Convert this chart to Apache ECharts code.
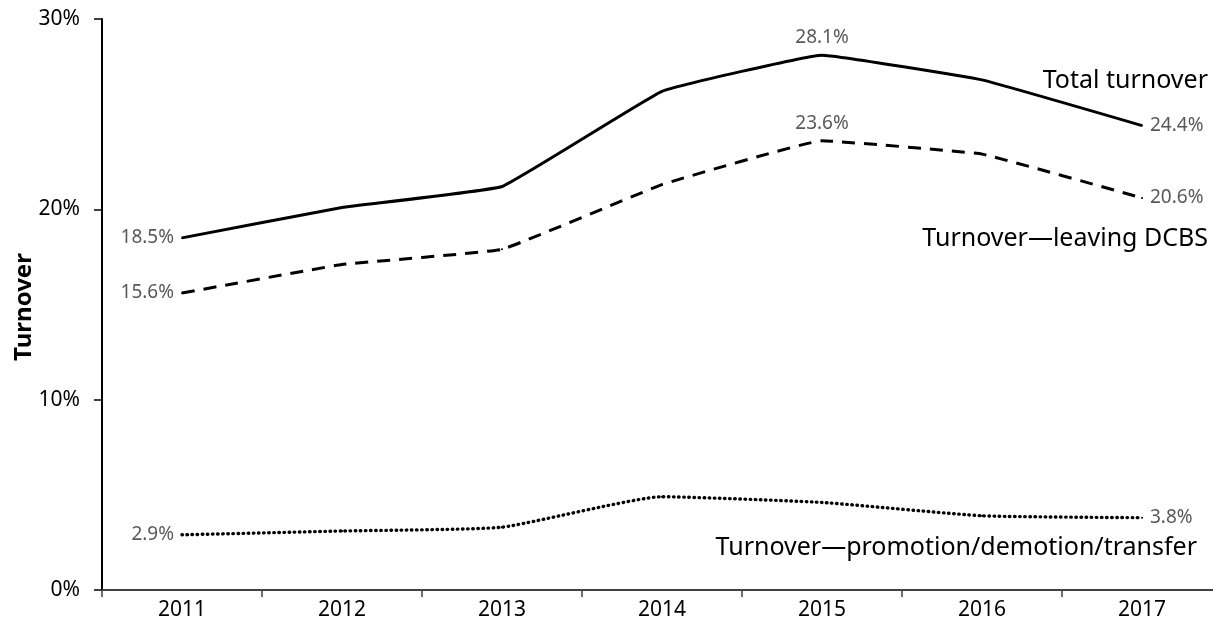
<!DOCTYPE html>
<html>
<head>
<meta charset="utf-8">
<script src="https://cdn.jsdelivr.net/npm/echarts@6/dist/echarts.min.js"></script>
<style>html,body{margin:0;padding:0;background:#fff}#c{width:1213px;height:634px}</style>
</head>
<body>
<div id="c"></div>
<script>
const years = ['2011','2012','2013','2014','2015','2016','2017'];
const totalTurnover = [18.5, 20.1, 21.2, 26.2, 28.1, 26.8, 24.4];
const leavingDCBS = [15.6, 17.1, 17.9, 21.3, 23.6, 22.9, 20.6];
const promotionTransfer = [2.9, 3.1, 3.3, 4.9, 4.6, 3.9, 3.8];
const yTicks = [0, 10, 20, 30];
const yAxisTitle = 'Turnover';
const seriesNames = ['Total turnover', 'Turnover\u2014leaving DCBS', 'Turnover\u2014promotion/demotion/transfer'];

const FONT = 'Noto Sans';
const chart = echarts.init(document.getElementById('c'), null, {renderer: 'canvas'});

function labelled(arr, cfg) {
  return arr.map((v, i) => {
    const d = {value: v};
    if (cfg[i]) {
      d.label = {show: true, position: cfg[i]};
    }
    return d;
  });
}

const common = {
  type: 'line', symbol: 'circle', symbolSize: 2, showSymbol: true,
  itemStyle: {color: '#000'},
  label: {show: false, distance: 7, color: '#595959', fontSize: 19, fontFamily: FONT,
    formatter: p => p.value.toFixed(1) + '%'},
  labelLayout: {hideOverlap: false},
  z: 3
};

const option = {
  animation: false,
  grid: {left: 102, right: -9, top: 19, bottom: 44, containLabel: false, outerBoundsMode: 'none'},
  xAxis: {
    type: 'category',
    data: years,
    boundaryGap: true,
    axisLine: {lineStyle: {color: '#404040', width: 2}},
    axisTick: {show: true, length: 7, lineStyle: {color: '#404040', width: 1.5}},
    axisLabel: {color: '#000', fontSize: 21, fontFamily: FONT, margin: 10}
  },
  yAxis: {
    type: 'value',
    min: yTicks[0], max: yTicks[yTicks.length - 1], interval: 10,
    axisLine: {show: true, lineStyle: {color: '#000', width: 2}},
    axisTick: {show: true, length: 8, lineStyle: {color: '#000', width: 1.5}},
    splitLine: {show: false},
    axisLabel: {color: '#000', fontSize: 21, fontFamily: FONT, margin: 22,
      formatter: v => v + '%'}
  },
  series: [
    Object.assign({}, common, {
      name: seriesNames[0], smooth: 0.08,
      lineStyle: {color: '#000', width: 3},
      data: labelled(totalTurnover, {0: 'left', 4: 'top', 6: 'right'})
    }),
    Object.assign({}, common, {
      name: seriesNames[1], smooth: 0.08,
      lineStyle: {color: '#000', width: 3, type: [13, 9]},
      data: labelled(leavingDCBS, {0: 'left', 4: 'top', 6: 'right'})
    }),
    Object.assign({}, common, {
      name: seriesNames[2], smooth: 0.15,
      lineStyle: {color: '#000', width: 3.4, type: [0.5, 4.6], cap: 'round'},
      data: labelled(promotionTransfer, {0: 'left', 6: 'right'})
    })
  ],
  graphic: [
    {type: 'text', x: 24, y: 307, rotation: Math.PI / 2,
      style: {text: yAxisTitle, fontSize: 24, fontWeight: 'bold', fontFamily: FONT, fill: '#000',
        align: 'center', verticalAlign: 'middle'}},
    {type: 'text', right: 5, top: 68, style: {text: seriesNames[0], fontSize: 25, fontFamily: FONT, fill: '#000'}},
    {type: 'text', right: 5, top: 226, style: {text: seriesNames[1], fontSize: 25, fontFamily: FONT, fill: '#000'}},
    {type: 'text', right: 16, top: 535, style: {text: seriesNames[2], fontSize: 25, fontFamily: FONT, fill: '#000'}}
  ]
};
chart.setOption(option);
</script>
</body>
</html>
